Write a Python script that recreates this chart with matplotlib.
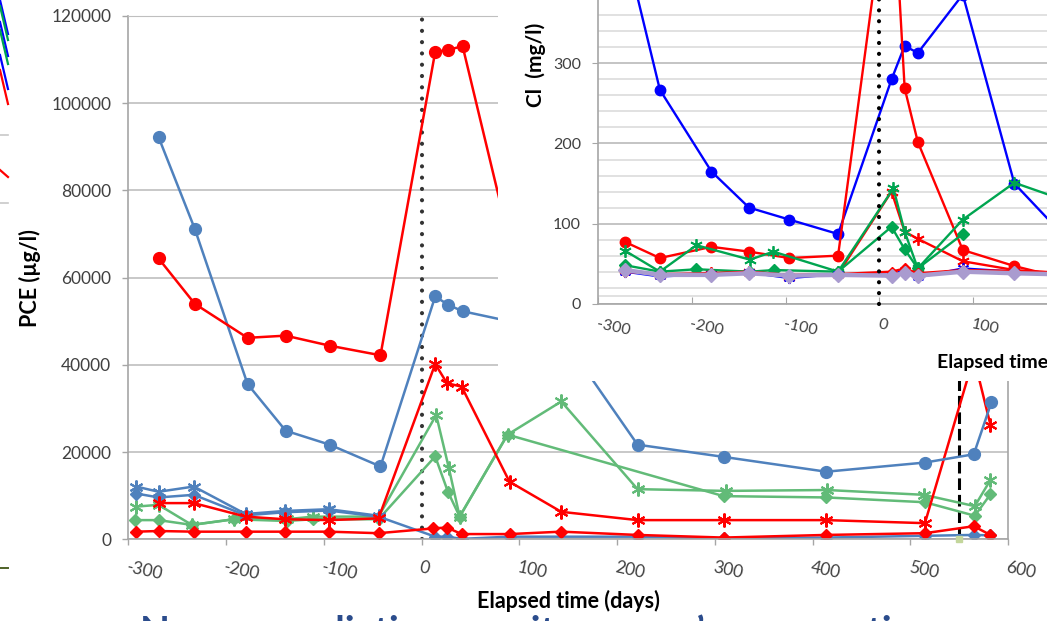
import matplotlib
matplotlib.use("Agg")
import matplotlib.pyplot as plt
from matplotlib.patches import Rectangle
from matplotlib.lines import Line2D
from matplotlib.transforms import IdentityTransform
from matplotlib.ticker import FixedLocator

plt.rcParams['font.family'] = ['Lato', 'DejaVu Sans']

# ---------------- PCE (main chart), elapsed days vs ug/l ----------------
pce_red_circ_x = [-269, -232, -178, -139, -94, -42, 14, 27, 42, 85]
pce_red_circ_y = [64400, 54000, 46200, 46700, 44400, 42200, 111800, 112200, 113100, 73000]

pce_blue_circ_x = [-269, -232, -178, -139, -94, -42, 14, 27, 42, 90, 150, 221, 309, 414, 515, 565, 583]
pce_blue_circ_y = [92200, 71200, 35600, 24900, 21700, 16700, 55700, 53800, 52300, 50000, 44600,
                   21700, 18900, 15500, 17600, 19500, 31400]

pce_blue_star_x = [-292, -269, -233, -180, -140, -95, -44]
pce_blue_star_y = [12100, 10900, 12100, 5800, 6500, 6900, 5400]

pce_blue_diam_x = [-292, -269, -233, -180, -140, -95, -44, 14, 26, 41, 90, 221, 309, 414, 515, 565, 582]
pce_blue_diam_y = [10500, 9600, 10200, 5500, 6200, 6600, 5200, 600, 600, 100, 600, 600, 200, 400,
                   800, 1000, 900]

pce_red_star_x = [-269, -233, -180, -140, -95, -44, 14, 26, 41, 90, 143, 221, 309, 414, 515, 565, 582]
pce_red_star_y = [8300, 8300, 5200, 4600, 4400, 4800, 40200, 35800, 35000, 13200, 6300, 4400, 4400,
                  4400, 3700, 41700, 26300]

pce_red_diam_x = [-292, -269, -233, -180, -140, -95, -44, 12, 26, 41, 90, 143, 221, 309, 414, 515, 565, 582]
pce_red_diam_y = [1750, 1900, 1750, 1750, 1750, 1750, 1400, 2500, 2700, 1200, 1200, 1750, 1000, 400,
                  1000, 1400, 3000, 1000]

pce_green_star_x = [-292, -269, -235, -192, -138, -111, -44, 15, 28, 39, 88, 143, 221, 311, 415, 514, 566, 582]
pce_green_star_y = [7500, 7900, 3300, 4600, 4600, 5200, 5200, 28500, 16300, 5200, 24000, 31600, 11500,
                    11100, 11300, 10200, 7600, 13600]

pce_green_diam_x = [-293, -269, -235, -192, -138, -111, -44, 14, 27, 39, 88, 309, 414, 515, 566, 582]
pce_green_diam_y = [4400, 4400, 3300, 4600, 4200, 4600, 4600, 19000, 10900, 5200, 24000, 9900, 9600,
                    8500, 5400, 10300]

pce_yticks = [0, 20000, 40000, 60000, 80000, 100000, 120000]
day_ticks = [-300, -200, -100, 0, 100, 200, 300, 400, 500, 600]
day_labels = ["-300", "-200", "-100", "0", "100", "200", "300", "400", "500", "600"]

# ---------------- Cl (inset chart), elapsed days vs mg/l ----------------
cl_days = [-271, -234, -179, -139, -96, -44, 13, 27, 41, 89, 144, 220]
cl_blue_circ = [446, 267, 165, 120, 105, 87, 280, 322, 313, 386, 150, 56]
cl_red_circ = [77, 57, 71, 65, 57, 60, 560, 269, 202, 67, 47, 25]
cl_red_star = [42, 36, 38, 40, 33, 37, 140, 90, 81, 53, 42, 36]
cl_purple = [42, 36, 36, 38, 35, 36, 35, 38, 35, 40, 38, 36]
cl_blue_x = [40, 34, 37, 39, 32, 37, 36, 42, 33, 44, 40, 38]
cl_red_diam = [40, 37, 38, 40, 36, 37, 40, 44, 38, 42, 41, 38]

cl_green_star_x = [-271, -234, -195, -138, -113, -44, 15, 27, 41, 89, 144, 220]
cl_green_star_y = [66, 40, 73, 55, 65, 40, 144, 90, 44, 105, 151, 120]
cl_green_diam_x = [-271, -234, -195, -138, -112, -44, 13, 27, 41, 89]
cl_green_diam_y = [48, 40, 43, 40, 42, 40, 96, 68, 44, 87]

cl_yticks = [0, 100, 200, 300]
cl_xticks = [-300, -200, -100, 0, 100]
cl_xlabels = ["-300", "-200", "-100", "0", "100"]

W, H = 1047, 621
fig = plt.figure(figsize=(W / 100, H / 100), dpi=100)


def box(left, top, right, bottom):
    return [left / W, 1 - bottom / H, (right - left) / W, (bottom - top) / H]


STAR = (6, 2, 0)
GRID = '#BFBFBF'
AXC = '#A6A6A6'
TXT = '#404040'

# main chart
ax = fig.add_axes(box(128.3, 16, 1008, 539.3))
ax.set_xlim(-300, 600)
ax.set_ylim(0, 120000)
ax.set_yticks(pce_yticks)
ax.set_yticklabels([str(v) for v in pce_yticks])
ax.set_xticks(day_ticks)
ax.set_xticklabels(day_labels)
ax.grid(axis='y', color=GRID, lw=1.2)
ax.set_axisbelow(True)
for s in ['left', 'bottom', 'right']:
    ax.spines[s].set_color(AXC)
    ax.spines[s].set_linewidth(1.2)
ax.spines['top'].set_color(GRID)
ax.tick_params(axis='both', direction='out', length=4.3, width=1, color=AXC,
               labelcolor=TXT, labelsize=12.5)
ax.tick_params(axis='y', pad=8)
ax.tick_params(axis='x', pad=10)
for lbl in ax.get_xticklabels():
    lbl.set_rotation(-12)
    lbl.set_ha('left')
    lbl.set_va('top')
    lbl.set_rotation_mode('anchor')

ax.set_xlabel('Elapsed time (days)', fontweight='bold', fontsize=15.5)
ax.xaxis.set_label_coords(0.5, -0.096)
ax.set_ylabel('PCE (µg/l)', fontweight='bold', fontsize=15.5)
ax.yaxis.set_label_coords(-0.0997, 0.5)

blue_m = '#4F81BD'
red_m = '#FF0000'
green_m = '#62BB78'
lw_m = 1.8

ax.plot(pce_green_diam_x, pce_green_diam_y, color=green_m, lw=lw_m, marker='D', ms=6.5)
ax.plot(pce_green_star_x, pce_green_star_y, color=green_m, lw=lw_m, marker=STAR, ms=10, mew=1.5)
ax.plot(pce_blue_star_x, pce_blue_star_y, color=blue_m, lw=lw_m, marker=STAR, ms=10, mew=1.5)
ax.plot(pce_blue_diam_x, pce_blue_diam_y, color=blue_m, lw=lw_m, marker='D', ms=6.5)
ax.plot(pce_red_diam_x, pce_red_diam_y, color=red_m, lw=lw_m, marker='D', ms=6.5)
ax.plot(pce_red_star_x, pce_red_star_y, color=red_m, lw=lw_m, marker=STAR, ms=10, mew=1.5)
ax.plot(pce_blue_circ_x, pce_blue_circ_y, color=blue_m, lw=lw_m, marker='o', ms=8.5)
ax.plot(pce_red_circ_x, pce_red_circ_y, color=red_m, lw=lw_m, marker='o', ms=8.5)

ax.axvline(0, color='#333333', lw=3, linestyle=(0, (0.01, 2.7)), dash_capstyle='round', zorder=1)
ax.axvline(550, color='black', lw=2.2, linestyle=(0, (3.8, 1.6)), zorder=1)
ax.plot([550], [0], marker='s', ms=4, color='#C3D69B', clip_on=False, zorder=5)

# white panel that holds the inset
fig.add_artist(Rectangle((498 / W, 1 - 381 / H), (W - 498) / W, 381 / H,
                         transform=fig.transFigure, facecolor='white', edgecolor='none', zorder=1))

# inset chart
axi = fig.add_axes(box(598, -16.7, 1442, 303.7))
axi.set_zorder(2)
axi.set_facecolor('white')
axi.set_xlim(-300, 600)
axi.set_ylim(0, 400)
axi.set_yticks(cl_yticks)
axi.set_yticklabels([str(v) for v in cl_yticks])
axi.yaxis.set_minor_locator(FixedLocator([10] + list(range(20, 400, 20))))
axi.set_xticks(cl_xticks)
axi.set_xticklabels(cl_xlabels)
axi.grid(axis='y', which='major', color=GRID, lw=1.3)
axi.grid(axis='y', which='minor', color='#DCDCDC', lw=1.2)
axi.axhline(400, color=GRID, lw=1.3)
axi.set_axisbelow(True)
for s in ['top', 'right']:
    axi.spines[s].set_visible(False)
for s in ['left', 'bottom']:
    axi.spines[s].set_color(AXC)
    axi.spines[s].set_linewidth(1.2)
axi.tick_params(axis='y', which='major', direction='out', length=4.3, color=AXC,
                labelcolor=TXT, labelsize=11.5, pad=8)
axi.tick_params(axis='y', which='minor', length=0)
axi.tick_params(axis='x', direction='in', length=5, color=AXC, labelcolor=TXT,
                labelsize=11.5, pad=10)
for lbl in axi.get_xticklabels():
    lbl.set_rotation(-12)
    lbl.set_ha('left')
    lbl.set_va('top')
    lbl.set_rotation_mode('anchor')
axi.set_xlabel('Elapsed time (days)', fontweight='bold', fontsize=14)
axi.xaxis.set_label_coords(0.5, -0.155)
axi.set_ylabel('Cl  (mg/l)', fontweight='bold', fontsize=15)
axi.yaxis.set_label_coords(-0.062, 0.745)

blue_i = '#0000FF'
red_i = '#FF0000'
green_i = '#00A550'
lw_i = 1.7

axi.plot(cl_days, cl_blue_circ, color=blue_i, lw=lw_i, marker='o', ms=7.5)
axi.plot(cl_days, cl_red_circ, color=red_i, lw=lw_i, marker='o', ms=7.5)
axi.plot(cl_days, cl_red_star, color=red_i, lw=lw_i, marker=STAR, ms=9, mew=1.3)
axi.plot(cl_green_star_x, cl_green_star_y, color=green_i, lw=lw_i, marker=STAR, ms=9, mew=1.3)
axi.plot(cl_green_diam_x, cl_green_diam_y, color=green_i, lw=lw_i, marker='D', ms=6)
axi.plot(cl_days, cl_blue_x, color=blue_i, lw=lw_i, marker=STAR, ms=8, mew=1.2)
axi.plot(cl_days, cl_red_diam, color=red_i, lw=lw_i, marker='D', ms=5)
axi.plot(cl_days, cl_purple, color='#A99BCF', lw=3.2, marker='D', ms=7)
axi.axvline(0, color='black', lw=3, linestyle=(0, (0.01, 2.6)), dash_capstyle='round',
            clip_on=False, zorder=3)

# fragments of neighbouring slide content at the left edge
idt = IdentityTransform()
for c, y0 in [('#0000FF', 621 - 0), ('#00A550', 621 - 6), ('#0000FF', 621 - 22),
              ('#00A550', 621 - 30), ('#0000FF', 621 - 55), ('#FF0000', 621 - 70)]:
    fig.add_artist(Line2D([0, 8], [y0, y0 - 34], color=c, lw=1.6, transform=idt))
for y0 in [621 - 135, 621 - 203]:
    fig.add_artist(Line2D([0, 8], [y0, y0], color='#C8C8C8', lw=1.2, transform=idt))
fig.add_artist(Line2D([0, 8], [621 - 170, 621 - 177], color='#FF0000', lw=1.6, transform=idt))
fig.add_artist(Line2D([0, 8], [621 - 568, 621 - 568], color='#4F6228', lw=1.4, transform=idt))

# slide title, mostly below the bottom edge
fig.text(140 / W, 1 - 614 / H, 'Nanoremediation \u2013 a site owner\u2019s perspective',
         color='#2B4C8C', fontsize=28, fontweight='bold', ha='left', va='top')

fig.savefig('out.png', dpi=100)
